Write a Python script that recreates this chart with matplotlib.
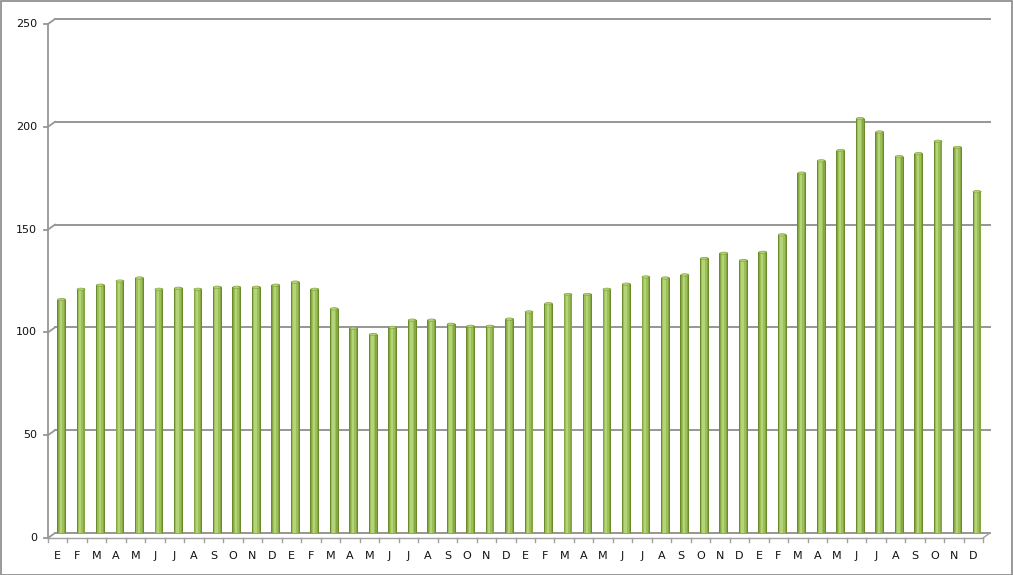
import matplotlib
matplotlib.use("Agg")
import matplotlib.pyplot as plt
from matplotlib.transforms import ScaledTranslation, blended_transform_factory
from matplotlib.patches import Ellipse, Rectangle

# ---- data ----
months = ["E", "F", "M", "A", "M", "J", "J", "A", "S", "O", "N", "D"]
labels = months * 4
values = [115, 120, 122, 124, 125.5, 120, 120.5, 120, 121, 121, 121, 122,
          123.5, 120, 110.5, 101, 98, 101.5, 105, 105, 103, 102, 102, 105.5,
          109, 113, 117.5, 117.5, 120, 122.5, 126, 125.5, 127, 135, 137.5, 134,
          138, 146.5, 176.5, 182.5, 187.5, 203, 196.5, 184.5, 186, 192, 189, 167.5]
yticks = [0, 50, 100, 150, 200, 250]

DPI = 100
W, H = 1013, 575
fig = plt.figure(figsize=(W / DPI, H / DPI), dpi=DPI)
fig.patch.set_facecolor("white")
ax = fig.add_axes([55 / W, 42 / H, 935 / W, 514 / H])
ax.set_xlim(-0.5, len(values) - 0.5)
ax.set_ylim(0, 250)
ax.set_axis_off()


def offs(tr, dx, dy):
    return tr + ScaledTranslation(dx / DPI, dy / DPI, fig.dpi_scale_trans)


grid_c = "#969696"
floor_c = "#a0a0a0"
# back wall gridlines
for t in yticks:
    ax.axhline(t, color=grid_c, lw=1.4, zorder=1, clip_on=False)

bt = blended_transform_factory(ax.transAxes, ax.transData)
# 3D connectors from front axis to back gridlines, tick marks, labels
for t in yticks:
    pb = bt.transform((0, t))
    fig.add_artist(plt.Line2D([pb[0] - 7, pb[0]], [pb[1] - 5, pb[1]],
                              transform=None, color=grid_c, lw=1.3))
    fig.add_artist(plt.Line2D([pb[0] - 11, pb[0] - 7], [pb[1] - 5, pb[1] - 5],
                              transform=None, color=grid_c, lw=1.3))
    ax.text(0, t, str(t), transform=offs(bt, -18, -5), ha="right", va="center",
            fontsize=8, color="#111111", family="DejaVu Sans")

# front y axis
ax.plot([0, 0], [0, 1], transform=offs(ax.transAxes, -7, -5), color=grid_c, lw=1.3, clip_on=False)
# floor: front line and right diagonal
ax.plot([0, 1], [0, 0], transform=offs(ax.transAxes, -7, -5), color=floor_c, lw=1.0, clip_on=False)
pr = ax.transAxes.transform((1, 0))
fig.add_artist(plt.Line2D([pr[0] - 7, pr[0]], [pr[1] - 5, pr[1]], transform=None, color=floor_c, lw=1.0))

# x tick marks at category boundaries
xt = blended_transform_factory(ax.transData, ax.transAxes)
for i in range(len(values) + 1):
    b = xt.transform((i - 0.5, 0))
    fig.add_artist(plt.Line2D([b[0] - 7, b[0] - 7], [b[1] - 5, b[1] - 9], transform=None,
                              color=floor_c, lw=1.0))
# category labels
for i, lab in enumerate(labels):
    ax.text(i, 0, lab, transform=offs(xt, -7, -23), ha="center", va="center",
            fontsize=8, color="#111111", family="DejaVu Sans")

# bars (cylinders)
x = list(range(len(values)))
tb = offs(ax.transData, -3.2, -3)
w = 0.45
layers = [(w, 0.0, "#6A8A2C"), (0.36, 0.0, "#86A843"), (0.27, -0.02, "#9CC057"), (0.12, -0.04, "#B4D47A")]
for bw, dx, c in layers:
    ax.bar([xi + dx for xi in x], values, width=bw, color=c, linewidth=0, transform=tb, zorder=3)
cap_h = 3.0 / (514 / 250)
for xi, v in zip(x, values):
    ax.add_patch(Ellipse((xi, v), w, cap_h, facecolor="#7E9E3C", edgecolor="none", transform=tb, zorder=4))
    ax.add_patch(Ellipse((xi - 0.02, v), 0.32, cap_h * 0.7, facecolor="#B0CF72", edgecolor="none",
                         transform=tb, zorder=5))

# outer border
fig.add_artist(Rectangle((0.5 / W, 0.5 / H), 1 - 1.5 / W, 1 - 1.5 / H, transform=fig.transFigure,
                         fill=False, edgecolor="#888888", lw=1.2))

fig.savefig("out.png", dpi=DPI)
